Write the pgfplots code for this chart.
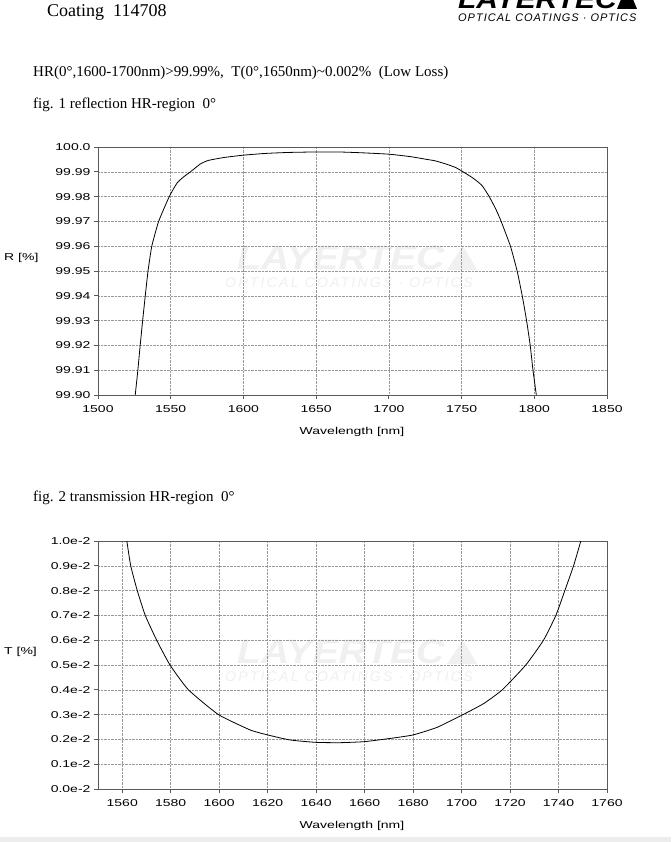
\documentclass[border=0pt]{standalone}
\usepackage{fontspec}
\setmainfont{Liberation Serif}
\newfontfamily\axfont[FakeStretch=1.4]{Liberation Sans}
\newfontfamily\logofont[FakeStretch=1.15]{Liberation Sans}
\newfontfamily\logosub[LetterSpace=9]{Liberation Sans}
\newfontfamily\wmsub[LetterSpace=16]{Liberation Sans}
\usepackage{pgfplots}
\usepackage{pgfplotstable}
\pgfplotsset{compat=1.18}

% fig. 1: reflection, R [%]
\pgfplotstableread{
lambda R
1525.6 99.900
1527.4 99.910
1529.0 99.920
1530.7 99.930
1532.5 99.940
1534.4 99.950
1537.0 99.960
1541.7 99.970
1549.0 99.980
1554.4 99.9855
1559.0 99.988
1563.6 99.990
1570.5 99.9932
1576.0 99.9946
1587.0 99.9958
1600.0 99.9967
1615.0 99.9974
1631.0 99.9978
1650.0 99.9980
1665.0 99.9980
1680.0 99.9977
1700.0 99.9971
1715.0 99.9961
1725.0 99.9951
1732.0 99.9944
1740.0 99.9930
1746.0 99.9917
1751.0 99.9900
1758.0 99.9874
1764.0 99.9845
1769.0 99.980
1773.5 99.975
1777.2 99.970
1783.6 99.960
1788.2 99.950
1791.7 99.940
1794.7 99.930
1797.2 99.920
1799.1 99.910
1801.4 99.900
}\reflR

% fig. 2: transmission, T in units of 1e-2 %
\pgfplotstableread{
lambda T
1561.9 1.000
1563.5 0.900
1566.2 0.800
1569.5 0.700
1574.2 0.600
1579.7 0.500
1587.3 0.400
1599.7 0.300
1612.8 0.238
1620.0 0.218
1629.3 0.1976
1640.0 0.188
1650.0 0.1868
1660.0 0.191
1670.6 0.204
1680.0 0.218
1690.0 0.249
1700.6 0.300
1709.2 0.345
1716.8 0.400
1726.5 0.500
1733.8 0.600
1738.9 0.700
1742.6 0.800
1746.2 0.900
1749.2 1.000
}\transT

\pgfplotsset{layertec/.style={
  scale only axis, width=509pt, height=248pt, anchor=south west,
  axis line style={draw=black!65, line width=0.9pt},
  tick align=outside, tick pos=left, major tick length=4pt,
  tick style={black!65, line width=0.8pt},
  grid=major, major grid style={densely dotted, black!40, line width=0.5pt},
  tick label style={font=\axfont\fontsize{10}{12}\selectfont, text=black},
  xticklabel style={yshift=-2.5pt},
  /pgf/number format/assume math mode=true,
}}

\newcommand{\wmark}[3]{% x, baseline y, colour
  \node[text=#3, font=\logofont\bfseries\itshape\fontsize{34}{34}\selectfont,
        inner sep=0, anchor=base west] at (#1pt,#2pt) {LAYERTEC};
  \fill[#3] (#1pt+210pt,#2pt) -- (#1pt+240pt,#2pt) -- (#1pt+226pt,#2pt+24pt) -- cycle;
  \node[text=#3, font=\wmsub\itshape\fontsize{14}{14}\selectfont,
        inner sep=0, anchor=base west] at (#1pt-12pt,#2pt-18pt) {OPTICAL COATINGS · OPTICS};
}

\begin{document}
\begin{tikzpicture}
\useasboundingbox (0,0) rectangle (671pt,842pt);
\fill[white] (0,0) rectangle (671pt,842pt);
\fill[black!7] (0,0) rectangle (671pt,5pt);

% header
\node[anchor=base west, inner sep=0, font=\fontsize{18}{20}\selectfont] at (47pt,825pt) {Coating\ \ 114708};
\node[text=black, font=\logofont\bfseries\itshape\fontsize{26}{26}\selectfont,
      inner sep=0, text depth=0pt, anchor=base west] at (458pt,833pt) {LAYERTEC};
\fill[black] (617pt,833pt) -- (637pt,833pt) -- (630pt,850pt) -- (624pt,850pt) -- cycle;
\node[font=\logosub\itshape\fontsize{11}{11}\selectfont, inner sep=0, anchor=base west]
  at (458pt,820.5pt) {OPTICAL COATINGS · OPTICS};

\node[anchor=base west, inner sep=0, font=\fontsize{15}{17}\selectfont] at (33pt,765pt)
  {HR(0°,1600-1700nm)>99.99\%,\ \ T(0°,1650nm)\textasciitilde0.002\%\ \ (Low Loss)};
\node[anchor=base west, inner sep=0, font=\fontsize{15}{17}\selectfont] at (33pt,733pt)
  {fig. 1 reflection HR-region\ \ 0°};
\node[anchor=base west, inner sep=0, font=\fontsize{15}{17}\selectfont] at (33pt,340pt)
  {fig. 2 transmission HR-region\ \ 0°};

% watermarks
\wmark{237}{572}{black!6}
\wmark{237}{178}{black!6}

\begin{axis}[layertec, at={(98pt,447pt)},
  xmin=1500, xmax=1850, ymin=0, ymax=100,
  xtick={1500,1550,1600,1650,1700,1750,1800,1850},
  xticklabels={1500,1550,1600,1650,1700,1750,1800,1850},
  ytick={0,10,20,30,40,50,60,70,80,90,100},
  yticklabels={99.90,99.91,99.92,99.93,99.94,99.95,99.96,99.97,99.98,99.99,100.0},
]
% y is drawn as (R - 99.9) * 1000 to keep the precision
\addplot[black, line width=0.8pt, smooth, tension=0.3] table[x=lambda, y expr={(\thisrow{R}-99.9)*1000}] {\reflR};
\end{axis}

\begin{axis}[layertec, at={(98pt,53pt)},
  xmin=1550, xmax=1760, ymin=0, ymax=1,
  xtick={1560,1580,1600,1620,1640,1660,1680,1700,1720,1740,1760},
  xticklabels={1560,1580,1600,1620,1640,1660,1680,1700,1720,1740,1760},
  ytick={0,0.1,0.2,0.3,0.4,0.5,0.6,0.7,0.8,0.9,1},
  yticklabels={0.0e-2,0.1e-2,0.2e-2,0.3e-2,0.4e-2,0.5e-2,0.6e-2,0.7e-2,0.8e-2,0.9e-2,1.0e-2},
]
\addplot[black, line width=0.8pt, smooth, tension=0.3] table[x=lambda, y=T] {\transT};
\end{axis}

% axis titles
\node[font=\axfont\fontsize{10}{12}\selectfont, anchor=west, inner sep=0] at (4pt,584pt) {R [\%]};
\node[font=\axfont\fontsize{10}{12}\selectfont] at (352pt,410pt) {Wavelength [nm]};
\node[font=\axfont\fontsize{10}{12}\selectfont, anchor=west, inner sep=0] at (4pt,190pt) {T [\%]};
\node[font=\axfont\fontsize{10}{12}\selectfont] at (352pt,16pt) {Wavelength [nm]};
\end{tikzpicture}
\end{document}
